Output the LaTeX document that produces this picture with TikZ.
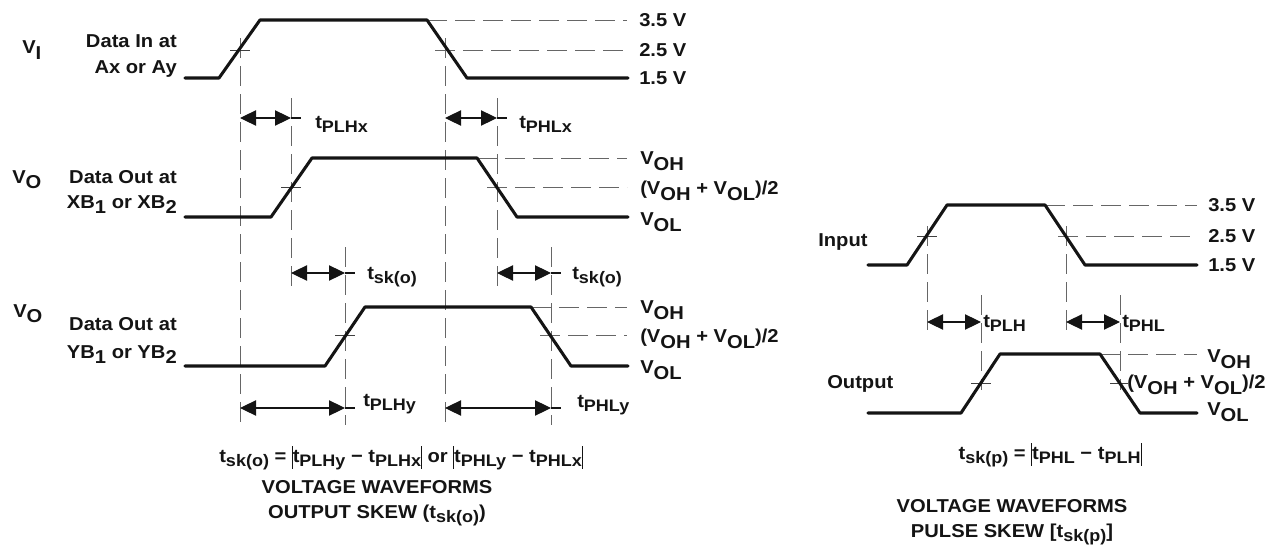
\documentclass[tikz,border=0pt]{standalone}
\usepackage{fontspec}
\setmainfont{Liberation Sans}[FakeStretch=1.08]
\usetikzlibrary{arrows.meta}
\newcommand\tsub[1]{\raisebox{-3pt}{\fontsize{12.5}{14}\selectfont #1}}
\newcommand\vsub[1]{\raisebox{-5pt}{#1}}
\newcommand\nsub[1]{\raisebox{-4pt}{#1}}
\newcommand\absbar{\rule[-5pt]{0.6pt}{17pt}}
\begin{document}
\begin{tikzpicture}[x=0.75pt,y=-0.75pt,
  wave/.style={line width=2.3pt,line cap=round,line join=round,draw=black!92},
  dashline/.style={line width=0.75pt,draw=black!60,dash pattern=on 15pt off 6pt},
  tickline/.style={line width=0.75pt,draw=black!75},
  dimarrow/.style={line width=0.8pt,draw=black!92,{Triangle[length=12pt,width=11.5pt]}-{Triangle[length=12pt,width=11.5pt]}},
  extline/.style={line width=0.8pt,draw=black!92},
  lbl/.style={inner sep=0pt,font=\fontsize{14}{16}\selectfont\bfseries,text=black!92},
]
\useasboundingbox (0,0) rectangle (1282,546);

% ================= LEFT: OUTPUT SKEW =================
% dashed verticals
\draw[dashline] (240,38) -- (240,425);
\draw[dashline] (291,98) -- (291,293);
\draw[dashline] (345,247) -- (345,425);
\draw[dashline] (445,38) -- (445,425);
\draw[dashline] (497,98) -- (497,293);
\draw[dashline] (551,247) -- (551,425);
% dashed horizontals
\draw[dashline] (427,20) -- (627,20);
\draw[dashline] (435,50) -- (627,50);
\draw[dashline] (477,158) -- (627,158);
\draw[dashline] (487,187) -- (627,187);
\draw[dashline] (531,307) -- (627,307);
\draw[dashline] (540,335) -- (627,335);
% crossing ticks
\draw[tickline] (230,50) -- (250,50);
\draw[tickline] (281,187) -- (301,187);
\draw[tickline] (335,335) -- (355,335);
% waveforms
\draw[wave] (185,78) -- (219,78) -- (260,20) -- (427,20) -- (467,78) -- (628,78);
\draw[wave] (185,217) -- (271,217) -- (312,158) -- (477,158) -- (517,217) -- (628,217);
\draw[wave] (185,366) -- (325,366) -- (365,307) -- (531,307) -- (571,366) -- (628,366);

% dimension arrows
\coordinate (plhxA) at (240,118); \coordinate (plhxB) at (291,118);
\coordinate (phlxA) at (445,118); \coordinate (phlxB) at (497,118);
\coordinate (sk1A) at (291,273);  \coordinate (sk1B) at (345,273);
\coordinate (sk2A) at (497,273);  \coordinate (sk2B) at (551,273);
\coordinate (plhyA) at (240,408); \coordinate (plhyB) at (345,408);
\coordinate (phlyA) at (445,408); \coordinate (phlyB) at (551,408);
\draw[dimarrow] (plhxA) -- (plhxB); \draw[extline] (plhxB) -- ++(10,0);
\draw[dimarrow] (phlxA) -- (phlxB); \draw[extline] (phlxB) -- ++(10,0);
\draw[dimarrow] (sk1A) -- (sk1B);   \draw[extline] (sk1B) -- ++(10,0);
\draw[dimarrow] (sk2A) -- (sk2B);   \draw[extline] (sk2B) -- ++(10,0);
\draw[dimarrow] (plhyA) -- (plhyB); \draw[extline] (plhyB) -- ++(10,0);
\draw[dimarrow] (phlyA) -- (phlyB); \draw[extline] (phlyB) -- ++(10,0);

% labels
\node[lbl,anchor=base west] (vi) at (22,53) {V\vsub{I}};
\node[lbl,anchor=base east] (din1) at (177,47) {Data In at};
\node[lbl,anchor=base east] (din2) at (177,73) {Ax or Ay};
\node[lbl,anchor=west] (v35a) at (639,20) {3.5 V};
\node[lbl,anchor=west] (v25a) at (639,50) {2.5 V};
\node[lbl,anchor=west] (v15a) at (639,78) {1.5 V};

\node[lbl,anchor=base west] (vo1) at (12,183) {V\nsub{O}};
\node[lbl,anchor=base east] (dout1) at (177,183) {Data Out at};
\node[lbl,anchor=base east] (dout2) at (177,208) {XB\nsub{1} or XB\nsub{2}};
\node[lbl,anchor=base west] (voh1) at (640,164) {V\vsub{OH}};
\node[lbl,anchor=base west] (vmid1) at (640,194) {(V\vsub{OH} + V\vsub{OL})/2};
\node[lbl,anchor=base west] (vol1) at (640,225) {V\vsub{OL}};

\node[lbl,anchor=base west] (vo2) at (13,317) {V\nsub{O}};
\node[lbl,anchor=base east] (dout3) at (177,330) {Data Out at};
\node[lbl,anchor=base east] (dout4) at (177,358) {YB\nsub{1} or YB\nsub{2}};
\node[lbl,anchor=base west] (voh2) at (640,313) {V\vsub{OH}};
\node[lbl,anchor=base west] (vmid2) at (640,342) {(V\vsub{OH} + V\vsub{OL})/2};
\node[lbl,anchor=base west] (vol2) at (640,373) {V\vsub{OL}};

\node[lbl,anchor=base west] (tplhx) at (315,128) {t\tsub{PLHx}};
\node[lbl,anchor=base west] (tphlx) at (519,128) {t\tsub{PHLx}};
\node[lbl,anchor=base west] (tsk1) at (367,279) {t\tsub{sk(o)}};
\node[lbl,anchor=base west] (tsk2) at (572,279) {t\tsub{sk(o)}};
\node[lbl,anchor=base west] (tplhy) at (363,406) {t\tsub{PLHy}};
\node[lbl,anchor=base west] (tphly) at (577,407) {t\tsub{PHLy}};

\node[lbl,anchor=base] (formL) at (401,462) {t\tsub{sk(o)} = \absbar t\tsub{PLHy} − t\tsub{PLHx}\absbar{} or \absbar t\tsub{PHLy} − t\tsub{PHLx}\absbar};
\node[lbl,anchor=base] (capL1) at (377,493) {VOLTAGE WAVEFORMS};
\node[lbl,anchor=base] (capL2) at (377,518) {OUTPUT SKEW (t\tsub{sk(o)})};

% ================= RIGHT: PULSE SKEW =================
\draw[dashline] (927,226) -- (927,337);
\draw[dashline] (981,295) -- (981,390);
\draw[dashline] (1066,226) -- (1066,337);
\draw[dashline] (1120,295) -- (1120,390);
\draw[dashline] (1045,205) -- (1197,205);
\draw[dashline] (1058,236) -- (1197,236);
\draw[dashline] (1100,354) -- (1197,354);
\draw[tickline] (917,236) -- (937,236);
\draw[tickline] (971,383) -- (991,383);
\draw[tickline] (1110,383) -- (1128,383);
\draw[wave] (868,265) -- (907,265) -- (947,205) -- (1045,205) -- (1085,265) -- (1197,265);
\draw[wave] (868,413) -- (961,413) -- (1000,354) -- (1100,354) -- (1140,413) -- (1197,413);

\coordinate (plhA) at (927,322); \coordinate (plhB) at (981,322);
\coordinate (phlA) at (1066,322); \coordinate (phlB) at (1120,322);
\draw[dimarrow] (plhA) -- (plhB);
\draw[dimarrow] (phlA) -- (phlB);

\node[lbl,anchor=base west] (inp) at (818,246) {Input};
\node[lbl,anchor=base west] (outp) at (827,388) {Output};
\node[lbl,anchor=west] (v35b) at (1208,205) {3.5 V};
\node[lbl,anchor=west] (v25b) at (1208,236) {2.5 V};
\node[lbl,anchor=west] (v15b) at (1208,265) {1.5 V};
\node[lbl,anchor=base west] (tplh) at (983,327) {t\tsub{PLH}};
\node[lbl,anchor=base west] (tphl) at (1122,327) {t\tsub{PHL}};
\node[lbl,anchor=base west] (voh3) at (1207,362) {V\vsub{OH}};
\node[lbl,anchor=base west] (vmid3) at (1127,388) {(V\vsub{OH} + V\vsub{OL})/2};
\node[lbl,anchor=base west] (vol3) at (1207,415) {V\vsub{OL}};

\node[lbl,anchor=base] (formR) at (1050,459) {t\tsub{sk(p)} = \absbar t\tsub{PHL} − t\tsub{PLH}\absbar};
\node[lbl,anchor=base] (capR1) at (1012,512) {VOLTAGE WAVEFORMS};
\node[lbl,anchor=base] (capR2) at (1012,537) {PULSE SKEW [t\tsub{sk(p)}]};
\end{tikzpicture}
\end{document}
